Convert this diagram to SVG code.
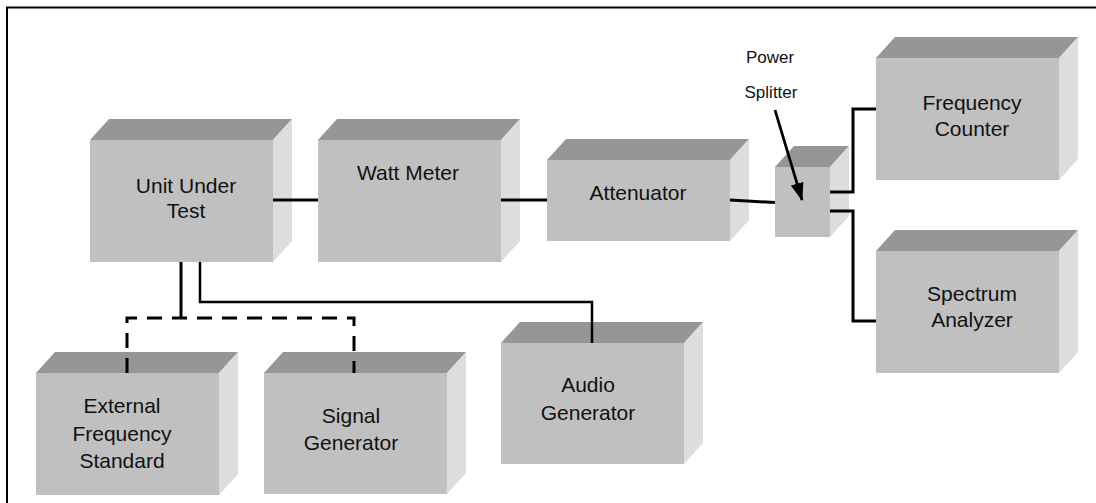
<svg xmlns="http://www.w3.org/2000/svg" width="1096" height="503" viewBox="0 0 1096 503">
  <style>
    .front { fill: #c0c0c0; }
    .top { fill: #969696; }
    .side { fill: #dddddd; }
    .label { font-family: "Liberation Sans", Arial, sans-serif; font-size: 21px; fill: #111111; text-anchor: middle; }
    .small { font-family: "Liberation Sans", Arial, sans-serif; font-size: 17px; fill: #111111; text-anchor: middle; }
    .wire { fill: none; stroke: #000000; stroke-width: 3; }
    .thin { fill: none; stroke: #000000; stroke-width: 2.5; }
    .dash { fill: none; stroke: #000000; stroke-width: 3; stroke-dasharray: 15 10; }
  </style>
  <defs>
    <marker id="arrow" markerWidth="18" markerHeight="13" refX="17" refY="6.5" orient="auto" markerUnits="userSpaceOnUse">
      <path d="M0,0 L18,6.5 L0,13 Z" fill="#000000"/>
    </marker>
  </defs>

  <rect width="1096" height="503" fill="#ffffff"/>
  <!-- frame -->
  <path d="M7,503 V7.5 H1096" fill="none" stroke="#000000" stroke-width="2"/>

  <!-- Unit Under Test -->
  <g id="unit-under-test">
    <polygon class="top" points="90,140 109,119 292,119 273,140"/>
    <polygon class="side" points="273,140 292,119 292,241 273,262"/>
    <rect class="front" x="90" y="140" width="183" height="122"/>
    <text class="label" x="186" y="193">Unit Under</text>
    <text class="label" x="186" y="218">Test</text>
  </g>

  <!-- Watt Meter -->
  <g id="watt-meter">
    <polygon class="top" points="318,140 337,119 520,119 501,140"/>
    <polygon class="side" points="501,140 520,119 520,241 501,262"/>
    <rect class="front" x="318" y="140" width="183" height="122"/>
    <text class="label" x="408" y="180">Watt Meter</text>
  </g>

  <!-- Attenuator -->
  <g id="attenuator">
    <polygon class="top" points="547,160 566,139 749,139 730,160"/>
    <polygon class="side" points="730,160 749,139 749,220 730,241"/>
    <rect class="front" x="547" y="160" width="183" height="81"/>
    <text class="label" x="638" y="200">Attenuator</text>
  </g>

  <!-- Power Splitter -->
  <g id="power-splitter">
    <polygon class="top" points="775,167 794,146 849,146 830,167"/>
    <polygon class="side" points="830,167 849,146 849,216 830,237"/>
    <rect class="front" x="775" y="167" width="55" height="70"/>
    <text class="small" x="770" y="63">Power</text>
    <text class="small" x="771" y="98">Splitter</text>
    <line x1="775" y1="110" x2="802" y2="200" stroke="#000000" stroke-width="2.7" marker-end="url(#arrow)"/>
  </g>

  <!-- Frequency Counter -->
  <g id="frequency-counter">
    <polygon class="top" points="876,58 895,37 1078,37 1059,58"/>
    <polygon class="side" points="1059,58 1078,37 1078,159 1059,180"/>
    <rect class="front" x="876" y="58" width="183" height="122"/>
    <text class="label" x="972" y="110">Frequency</text>
    <text class="label" x="972" y="136">Counter</text>
  </g>

  <!-- Spectrum Analyzer -->
  <g id="spectrum-analyzer">
    <polygon class="top" points="876,251 895,230 1078,230 1059,251"/>
    <polygon class="side" points="1059,251 1078,230 1078,352 1059,373"/>
    <rect class="front" x="876" y="251" width="183" height="122"/>
    <text class="label" x="972" y="301">Spectrum</text>
    <text class="label" x="972" y="327">Analyzer</text>
  </g>

  <!-- Audio Generator -->
  <g id="audio-generator">
    <polygon class="top" points="501,343 520,322 703,322 684,343"/>
    <polygon class="side" points="684,343 703,322 703,443 684,464"/>
    <rect class="front" x="501" y="343" width="183" height="121"/>
    <text class="label" x="588" y="392">Audio</text>
    <text class="label" x="588" y="420">Generator</text>
  </g>

  <!-- External Frequency Standard -->
  <g id="external-frequency-standard">
    <polygon class="top" points="36,373 55,352 238,352 219,373"/>
    <polygon class="side" points="219,373 238,352 238,474 219,495"/>
    <rect class="front" x="36" y="373" width="183" height="122"/>
    <text class="label" x="122" y="413">External</text>
    <text class="label" x="122" y="441">Frequency</text>
    <text class="label" x="122" y="468">Standard</text>
  </g>

  <!-- Signal Generator -->
  <g id="signal-generator">
    <polygon class="top" points="264,373 283,352 466,352 447,373"/>
    <polygon class="side" points="447,373 466,352 466,473 447,494"/>
    <rect class="front" x="264" y="373" width="183" height="121"/>
    <text class="label" x="351" y="423">Signal</text>
    <text class="label" x="351" y="450">Generator</text>
  </g>

  <!-- connectors -->
  <g id="connectors">
    <line class="wire" x1="273" y1="200" x2="318" y2="200"/>
    <line class="wire" x1="501" y1="200" x2="547" y2="200"/>
    <line class="wire" x1="730" y1="200" x2="775" y2="202.5"/>
    <polyline class="wire" points="830,192 853,192 853,109 876,109"/>
    <polyline class="wire" points="830,211 853,211 853,321 876,321"/>
    <polyline class="wire" points="181,262 181,318"/>
    <polyline class="thin" points="200,262 200,302 592,302 592,343"/>
    <polyline class="dash" points="127,373 127,318 354,318 354,373"/>
  </g>
</svg>
